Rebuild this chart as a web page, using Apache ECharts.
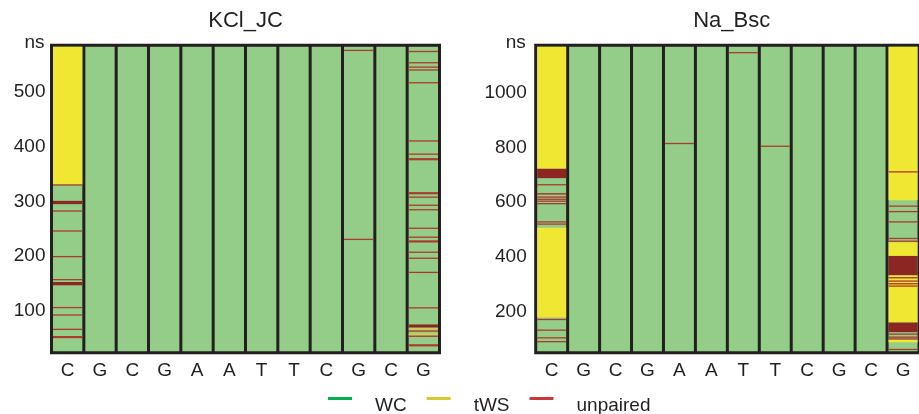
<!DOCTYPE html>
<html>
<head>
<meta charset="utf-8">
<script src="https://cdn.jsdelivr.net/npm/echarts@6/dist/echarts.min.js"></script>
<style>
html,body{margin:0;padding:0;background:#fff;}
#chart{width:919px;height:414px;}
</style>
</head>
<body>
<div id="chart"></div>
<script>
// ---------------- DATA ----------------
const categories = ['C', 'G', 'C', 'G', 'A', 'A', 'T', 'T', 'C', 'G', 'C', 'G'];
const stateNames = ['WC', 'tWS', 'unpaired'];

// KCl_JC panel (time in ns)
const kclRange = [24, 585];
const kclTicks = [100, 200, 300, 400, 500];
// [column index, start ns, end ns]
const kclWC = [
  [0, 24, 585], [1, 24, 585], [2, 24, 585], [3, 24, 585], [4, 24, 585], [5, 24, 585],
  [6, 24, 585], [7, 24, 585], [8, 24, 585], [9, 24, 585], [10, 24, 585], [11, 24, 585]
];
const kclTWS = [
  [0, 331, 585],
  [11, 66.3, 68.5], [11, 56.5, 59.2]
];
const kclUnpaired = [
  [0, 329, 331], [0, 295, 301], [0, 281.5, 283.5], [0, 245, 247], [0, 198.3, 200.3],
  [0, 156.3, 158.3], [0, 147, 153], [0, 105.3, 107.3], [0, 91.8, 93.8], [0, 65.6, 67.6],
  [0, 50.5, 54.5],
  [9, 574.5, 576.5], [9, 229.7, 231.7],
  [11, 572.5, 574.5], [11, 552, 554], [11, 544, 546], [11, 538.8, 540.8], [11, 515.5, 517.5],
  [11, 409.3, 411.3], [11, 385.2, 387.2], [11, 375, 379], [11, 313, 317], [11, 306.8, 308.8],
  [11, 292, 294], [11, 283.8, 285.8], [11, 250, 252], [11, 233.7, 235.7], [11, 225, 229],
  [11, 206.3, 208.3], [11, 195.3, 197.3], [11, 169.5, 171.5], [11, 104.8, 106.8],
  [11, 70, 75.5], [11, 62.5, 64.5], [11, 53, 55], [11, 35.5, 39.5]
];

// Na_Bsc panel (time in ns)
const naRange = [51, 1173];
const naTicks = [200, 400, 600, 800, 1000];
const naWC = [
  [0, 51, 1173], [1, 51, 1173], [2, 51, 1173], [3, 51, 1173], [4, 51, 1173], [5, 51, 1173],
  [6, 51, 1173], [7, 51, 1173], [8, 51, 1173], [9, 51, 1173], [10, 51, 1173], [11, 51, 1173]
];
const naTWS = [
  [0, 722, 1173], [0, 179.6, 507],
  [11, 607, 1173], [11, 404, 454], [11, 161, 334], [11, 88.5, 98.5]
];
const naUnpaired = [
  [0, 688, 722], [0, 662, 665.6], [0, 628, 633.5], [0, 617, 620.6], [0, 609, 612.6],
  [0, 602, 605.6], [0, 593, 596.6], [0, 526.5, 530], [0, 518.5, 522], [0, 170.5, 174],
  [0, 131.5, 135], [0, 103.5, 107], [0, 89.5, 93],
  [4, 812.5, 816],
  [6, 1144, 1147.6],
  [7, 802.5, 806],
  [11, 709, 712.6], [11, 584, 587.6], [11, 564, 567.6], [11, 526.5, 530], [11, 466, 469.6],
  [11, 456, 459.6], [11, 334, 404], [11, 322, 327], [11, 310, 314.5], [11, 300, 305],
  [11, 292.5, 295.5], [11, 126, 161], [11, 117, 120.5], [11, 106, 109.5], [11, 100, 102.5],
  [11, 61, 64.5]
];

// ---------------- STYLE ----------------
const FONT = '"Liberation Sans", Arial, Helvetica, sans-serif';
const TXT = '#231f20';
const FILL = { WC: '#93cd87', tWS: '#efe731', unpaired: '#8c2622' };
const THIN_FILL = { WC: '#93cd87', tWS: '#e8c83a', unpaired: '#ad3a2e' };
const LEGEND_COLOR = { WC: '#00b050', tWS: '#d6c92f', unpaired: '#c9383b' };

function makeRender(state) {
  return function (params, api) {
    const col = api.value(0);
    const v0 = api.value(1), v1 = api.value(2);
    const pTop = api.coord([col, v1]);
    const pBot = api.coord([col, v0]);
    const bw = api.size([1, 0])[0];
    const cs = params.coordSys;
    const inset = 1.5;
    let y0 = Math.max(pTop[1], cs.y + inset);
    let y1 = Math.min(pBot[1], cs.y + cs.height - inset);
    if (y1 <= y0) return null;
    let fill = FILL[state];
    if (y1 - y0 < 2.2) {
      fill = THIN_FILL[state];
      const mid = (y0 + y1) / 2;
      const h = Math.max(y1 - y0, 1.3);
      y0 = mid - h / 2; y1 = mid + h / 2;
    }
    return {
      type: 'rect',
      shape: { x: pTop[0] - bw / 2 + inset, y: y0, width: bw - 2 * inset, height: y1 - y0 },
      style: { fill: fill }
    };
  };
}

const grids = [
  { left: 51.5, top: 45.2, width: 388, height: 307.5 },
  { left: 535.7, top: 45.2, width: 389, height: 307.5 }
];
const ranges = [kclRange, naRange];
const ticks = [kclTicks, naTicks];
const panelData = [
  { WC: kclWC, tWS: kclTWS, unpaired: kclUnpaired },
  { WC: naWC, tWS: naTWS, unpaired: naUnpaired }
];

const option = {
  animation: false,
  backgroundColor: '#fff',
  textStyle: { fontFamily: FONT },
  title: [
    { text: 'KCl_JC', left: 245.5, top: 10, textAlign: 'center', padding: 0,
      textStyle: { fontFamily: FONT, fontSize: 22, fontWeight: 'normal', color: TXT } },
    { text: 'Na_Bsc', left: 731.7, top: 10, textAlign: 'center', padding: 0,
      textStyle: { fontFamily: FONT, fontSize: 22, fontWeight: 'normal', color: TXT } }
  ],
  legend: {
    left: 328, top: 396, padding: 0,
    itemWidth: 24, itemHeight: 17, itemGap: 20,
    icon: 'path://M0,0L24,0L24,3L0,3ZM0,17L0.01,17L0.01,17.01Z',
    selectedMode: false,
    textStyle: { fontFamily: FONT, fontSize: 19, color: TXT, padding: [0, 0, 0, 18] },
    data: stateNames.map(n => ({ name: n, itemStyle: { color: LEGEND_COLOR[n] } }))
  },
  grid: grids.map(g => Object.assign({
    show: true, backgroundColor: '#231f20', borderColor: '#231f20', borderWidth: 3
  }, g)),
  xAxis: grids.map((g, i) => ({
    type: 'category', gridIndex: i, data: categories,
    axisLine: { show: false }, axisTick: { show: false }, splitLine: { show: false },
    axisLabel: { fontFamily: FONT, fontSize: 19, color: TXT, margin: 9 }
  })),
  yAxis: grids.map((g, i) => ({
    type: 'value', gridIndex: i, min: ranges[i][0], max: ranges[i][1],
    name: 'ns', nameLocation: 'end', nameGap: 2,
    nameTextStyle: { fontFamily: FONT, fontSize: 19, color: TXT, align: 'right',
      verticalAlign: 'middle', padding: [0, i === 0 ? 7 : 10, 0, 0] },
    axisLine: { show: false }, axisTick: { show: false }, splitLine: { show: false },
    axisLabel: { fontFamily: FONT, fontSize: 19, color: TXT, margin: i === 0 ? 6 : 9,
      customValues: ticks[i], formatter: v => String(v) }
  })),
  series: []
};

panelData.forEach((pd, i) => {
  stateNames.forEach(state => {
    option.series.push({
      type: 'custom', name: state, xAxisIndex: i, yAxisIndex: i,
      itemStyle: { color: LEGEND_COLOR[state] },
      renderItem: makeRender(state),
      encode: { x: 0, y: [1, 2] },
      data: pd[state],
      silent: true
    });
  });
});

const chart = echarts.init(document.getElementById('chart'), null, { renderer: 'canvas' });
chart.setOption(option);
</script>
</body>
</html>
